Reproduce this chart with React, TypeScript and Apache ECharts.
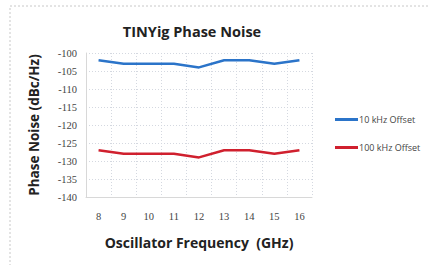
import React, { useEffect, useRef } from "react";
import * as echarts from "echarts";

const categories = ["8", "9", "10", "11", "12", "13", "14", "15", "16"];
const offset10k = [-102, -103, -103, -103, -104, -102, -102, -103, -102];
const offset100k = [-127, -128, -128, -128, -129, -127, -127, -128, -127];
const seriesNames = ["10 kHz Offset", "100 kHz Offset"];

export default function App() {
  const ref = useRef<HTMLDivElement>(null);
  useEffect(() => {
    if (!ref.current) return;
    const chart = echarts.init(ref.current, undefined, { renderer: "svg" });
    chart.setOption({
      animation: false,
      backgroundColor: "#ffffff",
      title: {
        text: "TINYig Phase Noise",
        left: 187,
        textAlign: "center",
        top: 19,
        textStyle: { fontFamily: "Open Sans", fontWeight: "bold", fontSize: 14.5, color: "#222" },
      },
      graphic: [
        {
          type: "rect",
          shape: { x: 10, y: 6, width: 430, height: 270 },
          style: { fill: "none", stroke: "#c8c8c8", lineWidth: 1, lineDash: [2, 2] },
          silent: true,
        },
      ],
      legend: {
        orient: "vertical",
        left: 330,
        top: 110,
        itemGap: 19,
        itemWidth: 23,
        itemHeight: 3,
        icon: "rect",
        data: seriesNames,
        textStyle: { fontFamily: "Open Sans", fontSize: 9, color: "#444", padding: [0, 0, 0, -4] },
      },
      grid: { left: 86, right: 117, top: 53, bottom: 68 },
      xAxis: {
        type: "category",
        data: categories,
        boundaryGap: true,
        name: "Oscillator Frequency  (GHz)",
        nameLocation: "middle",
        nameGap: 38,
        nameTextStyle: { fontFamily: "Open Sans", fontWeight: "bold", fontSize: 14, color: "#222" },
        axisLine: { lineStyle: { color: "#d8d8d8" } },
        axisTick: { show: false },
        axisLabel: { fontFamily: "Liberation Serif", fontSize: 10.5, color: "#444", margin: 14 },
        splitLine: { show: true, interval: 0, lineStyle: { color: "#d4d8e0", type: [1, 2] } },
      },
      yAxis: {
        type: "value",
        min: -140,
        max: -100,
        interval: 5,
        name: "Phase Noise (dBc/Hz)",
        nameLocation: "middle",
        nameGap: 45,
        nameTextStyle: { fontFamily: "Open Sans", fontWeight: "bold", fontSize: 13.5, color: "#222" },
        axisLine: { show: true, lineStyle: { color: "#d8d8d8" } },
        axisTick: { show: false },
        axisLabel: { fontFamily: "Liberation Serif", fontSize: 10.5, color: "#444", margin: 9 },
        splitLine: { lineStyle: { color: "#d4d8e0", type: [1, 2] } },
      },
      series: [
        {
          name: seriesNames[0],
          type: "line",
          data: offset10k,
          showSymbol: false,
          symbol: "none",
          lineStyle: { color: "#2b74c9", width: 2.5 },
          itemStyle: { color: "#2b74c9" },
        },
        {
          name: seriesNames[1],
          type: "line",
          data: offset100k,
          showSymbol: false,
          symbol: "none",
          lineStyle: { color: "#d0202e", width: 2.5 },
          itemStyle: { color: "#d0202e" },
        },
      ],
    });
    return () => chart.dispose();
  }, []);
  return <div ref={ref} style={{ width: 429, height: 265, position: "absolute", left: 0, top: 0 }} />;
}
